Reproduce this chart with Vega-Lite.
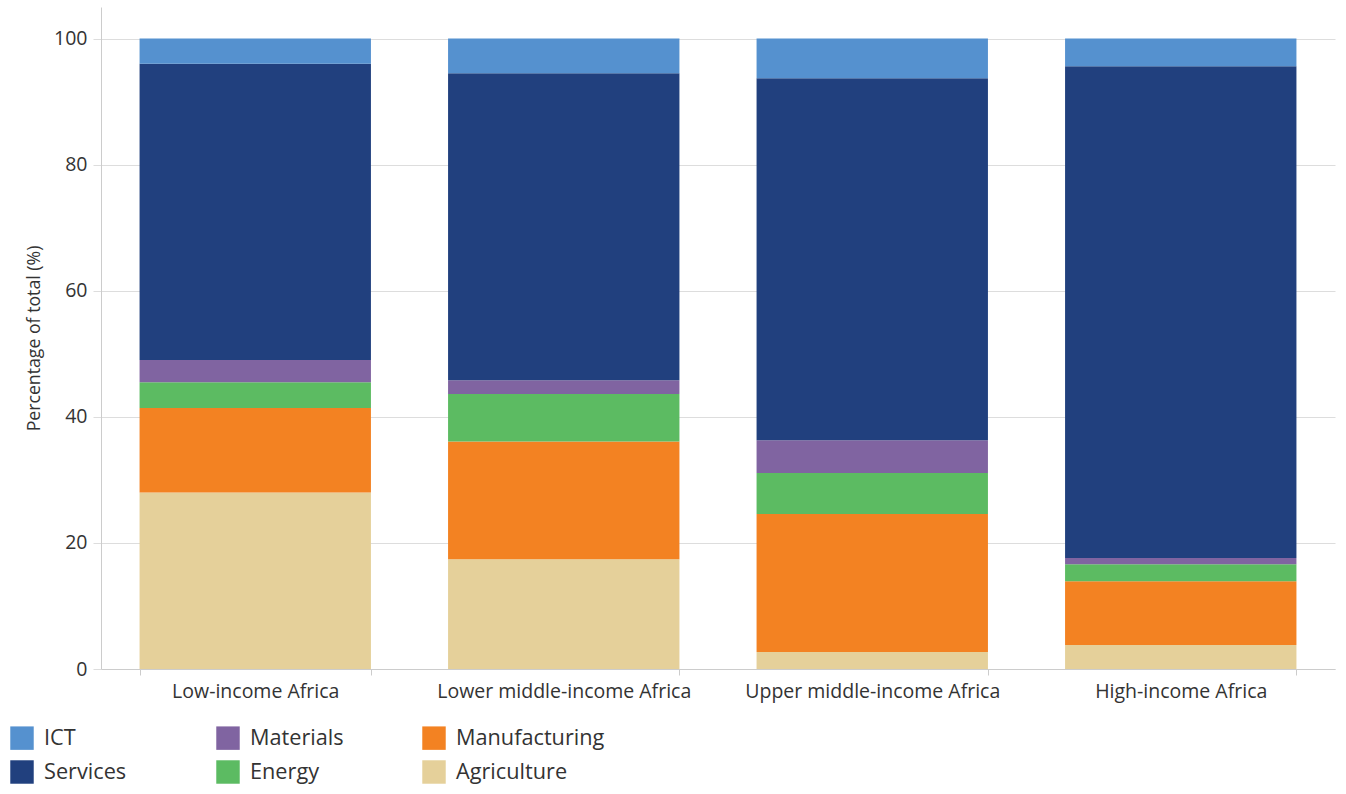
{
  "$schema": "https://vega.github.io/schema/vega-lite/v6.json",
  "autosize": {"type": "none"},
  "width": 1234,
  "height": 662,
  "padding": {"left": 101, "top": 7, "right": 11, "bottom": 125},
  "background": "white",
  "config": {
    "font": "Open Sans",
    "view": {"stroke": null}
  },
  "data": {
    "values": [
      {"group": "Low-income Africa", "sector": "Agriculture", "value": 28.0},
      {"group": "Low-income Africa", "sector": "Manufacturing", "value": 13.4},
      {"group": "Low-income Africa", "sector": "Energy", "value": 4.1},
      {"group": "Low-income Africa", "sector": "Materials", "value": 3.5},
      {"group": "Low-income Africa", "sector": "Services", "value": 47.0},
      {"group": "Low-income Africa", "sector": "ICT", "value": 4.0},
      {"group": "Lower middle-income Africa", "sector": "Agriculture", "value": 17.4},
      {"group": "Lower middle-income Africa", "sector": "Manufacturing", "value": 18.7},
      {"group": "Lower middle-income Africa", "sector": "Energy", "value": 7.5},
      {"group": "Lower middle-income Africa", "sector": "Materials", "value": 2.2},
      {"group": "Lower middle-income Africa", "sector": "Services", "value": 48.7},
      {"group": "Lower middle-income Africa", "sector": "ICT", "value": 5.5},
      {"group": "Upper middle-income Africa", "sector": "Agriculture", "value": 2.7},
      {"group": "Upper middle-income Africa", "sector": "Manufacturing", "value": 21.9},
      {"group": "Upper middle-income Africa", "sector": "Energy", "value": 6.5},
      {"group": "Upper middle-income Africa", "sector": "Materials", "value": 5.2},
      {"group": "Upper middle-income Africa", "sector": "Services", "value": 57.4},
      {"group": "Upper middle-income Africa", "sector": "ICT", "value": 6.3},
      {"group": "High-income Africa", "sector": "Agriculture", "value": 3.8},
      {"group": "High-income Africa", "sector": "Manufacturing", "value": 10.1},
      {"group": "High-income Africa", "sector": "Energy", "value": 2.7},
      {"group": "High-income Africa", "sector": "Materials", "value": 1.0},
      {"group": "High-income Africa", "sector": "Services", "value": 78.0},
      {"group": "High-income Africa", "sector": "ICT", "value": 4.4}
    ]
  },
  "transform": [
    {"calculate": "indexof(['Agriculture','Manufacturing','Energy','Materials','Services','ICT'], datum.sector)", "as": "stackOrder"}
  ],
  "mark": {"type": "bar"},
  "encoding": {
    "x": {
      "field": "group",
      "type": "nominal",
      "sort": ["Low-income Africa", "Lower middle-income Africa", "Upper middle-income Africa", "High-income Africa"],
      "scale": {"paddingInner": 0.25, "paddingOuter": 0.125},
      "axis": {
        "title": null,
        "labelAngle": 0,
        "labelFontSize": 19.5,
        "labelColor": "#333333",
        "labelPadding": 7,
        "labelLimit": 400,
        "domainColor": "#cccccc",
        "tickColor": "#cccccc",
        "tickBand": "extent",
        "tickSize": 6
      }
    },
    "y": {
      "field": "value",
      "type": "quantitative",
      "stack": "zero",
      "scale": {"domain": [0, 105], "nice": false},
      "axis": {
        "title": "Percentage of total (%)",
        "titleFontSize": 17.7,
        "titleFontWeight": "normal",
        "titleColor": "#333333",
        "titlePadding": 10,
        "values": [0, 20, 40, 60, 80, 100],
        "labelFontSize": 19.5,
        "labelColor": "#333333",
        "labelPadding": 6,
        "gridColor": "#dddddd",
        "tickColor": "#dddddd",
        "tickSize": 8,
        "domainColor": "#cccccc"
      }
    },
    "order": {"field": "stackOrder", "type": "quantitative", "sort": "ascending"},
    "color": {
      "field": "sector",
      "type": "nominal",
      "scale": {
        "domain": ["ICT", "Materials", "Manufacturing", "Services", "Energy", "Agriculture"],
        "range": ["#5591CF", "#8064A1", "#F38222", "#21407E", "#5CBB62", "#E5D09A"]
      },
      "legend": {
        "title": null,
        "orient": "none",
        "legendX": -91,
        "legendY": 719,
        "direction": "horizontal",
        "columns": 3,
        "gridAlign": "all",
        "symbolType": "square",
        "symbolSize": 550,
        "symbolStrokeWidth": 0,
        "labelFontSize": 21.7,
        "labelColor": "#333333",
        "labelOffset": 10,
        "labelLimit": 300,
        "rowPadding": 10,
        "columnPadding": 23
      }
    }
  }
}
